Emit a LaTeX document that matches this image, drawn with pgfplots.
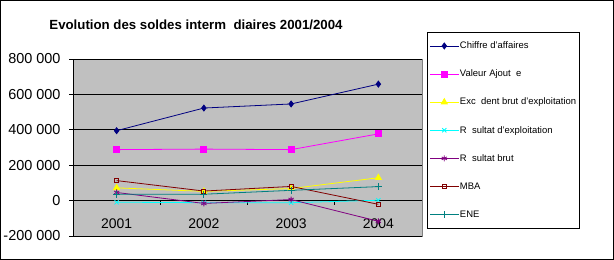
\documentclass[border=0pt]{standalone}
\usepackage{pgfplots}
\pgfplotsset{compat=1.18}
\usepackage{fontspec}
\setmainfont{Liberation Sans}
\definecolor{cnavy}{HTML}{000080}
\definecolor{cmag}{HTML}{FF00FF}
\definecolor{cyel}{HTML}{FFFF00}
\definecolor{ccyan}{HTML}{00FFFF}
\definecolor{cpurp}{HTML}{800080}
\definecolor{cmaroon}{HTML}{800000}
\definecolor{cteal}{HTML}{008080}
\definecolor{cbg}{HTML}{C0C0C0}
\definecolor{cborder}{HTML}{808080}
\pgfplotsset{every axis plot/.append style={legend image code/.code={\draw[mark repeat=2,mark phase=2,#1] plot coordinates {(0bp,0bp) (14.5bp,0bp) (29bp,0bp)};}}}
\begin{document}
\begin{tikzpicture}
\useasboundingbox (0bp,0bp) rectangle (614bp,260bp);
\draw[black, line width=1bp] (0.5bp,0.5bp) rectangle (613.5bp,259.5bp);
\node[font=\bfseries\fontsize{13.3}{15}\selectfont] at (196bp,235.5bp) {Evolution des soldes interm\phantom{é}diaires 2001/2004};
\begin{axis}[
  at={(73bp,24bp)}, anchor=south west,
  scale only axis, width=349bp, height=177bp,
  xmin=0.5, xmax=4.5, ymin=-200000, ymax=800000,
  axis x line*=middle, axis y line*=left,
  axis line style={-, black, line width=0.8bp},
  axis background/.style={fill=cbg, draw=cborder, line width=0.8bp},
  tick align=outside, major tick length=4bp,
  tick style={black, line width=0.8bp},
  xtick={1.5,2.5,3.5}, xticklabels={},
  extra x ticks={1,2,3,4}, extra x tick labels={2001,2002,2003,2004},
  extra x tick style={major tick length=0bp, xticklabel style={yshift=-15bp, font=\fontsize{14}{16}\selectfont}},
  ytick={-200000,0,200000,400000,600000,800000},
  yticklabels={-200 000,0,200 000,400 000,600 000,800 000},
  yticklabel style={xshift=-5bp, font=\fontsize{14.5}{16}\selectfont},
  scaled y ticks=false,
  ymajorgrids, grid style={black, line width=0.8bp},
  every axis plot/.append style={line width=0.8bp},
  legend style={at={(1.0143,1.1525)}, anchor=north west, draw=black, line width=0.8bp, fill=white,
    font=\fontsize{9.5}{12}\selectfont, inner xsep=2bp, inner ysep=8bp, row sep=17bp,
    nodes={inner sep=0.8bp, text height=7.5bp, text depth=2bp}},
  legend cell align=left,
]
\addplot[color=cnavy, mark=diamond*, mark size=3bp] coordinates {(1,395000) (2,523000) (3,546000) (4,658000)};
\addlegendentry{Chiffre d'affaires}
\addplot[color=cmag, mark=square*, mark size=3bp] coordinates {(1,288000) (2,291000) (3,288000) (4,377000)};
\addlegendentry{Valeur Ajout\phantom{é}e}
\addplot[color=cyel, mark=triangle*, mark size=3.5bp] coordinates {(1,72000) (2,52000) (3,68000) (4,129000)};
\addlegendentry{Exc\phantom{é}dent brut d'exploitation}
\addplot[color=ccyan, mark=x, mark size=3bp] coordinates {(1,-9000) (2,-12000) (3,-12000) (4,2000)};
\addlegendentry{R\phantom{é}sultat d'exploitation}
\addplot[color=cpurp, mark=asterisk, mark size=3bp] coordinates {(1,46000) (2,-16000) (3,6000) (4,-117000)};
\addlegendentry{R\phantom{é}sultat brut}
\addplot[color=cmaroon, mark=square, mark size=2bp] coordinates {(1,113000) (2,54000) (3,80000) (4,-21000)};
\addlegendentry{MBA}
\addplot[color=cteal, mark=+, mark size=3.5bp] coordinates {(1,36000) (2,36000) (3,58000) (4,79000)};
\addlegendentry{ENE}
\end{axis}
\end{tikzpicture}
\end{document}
